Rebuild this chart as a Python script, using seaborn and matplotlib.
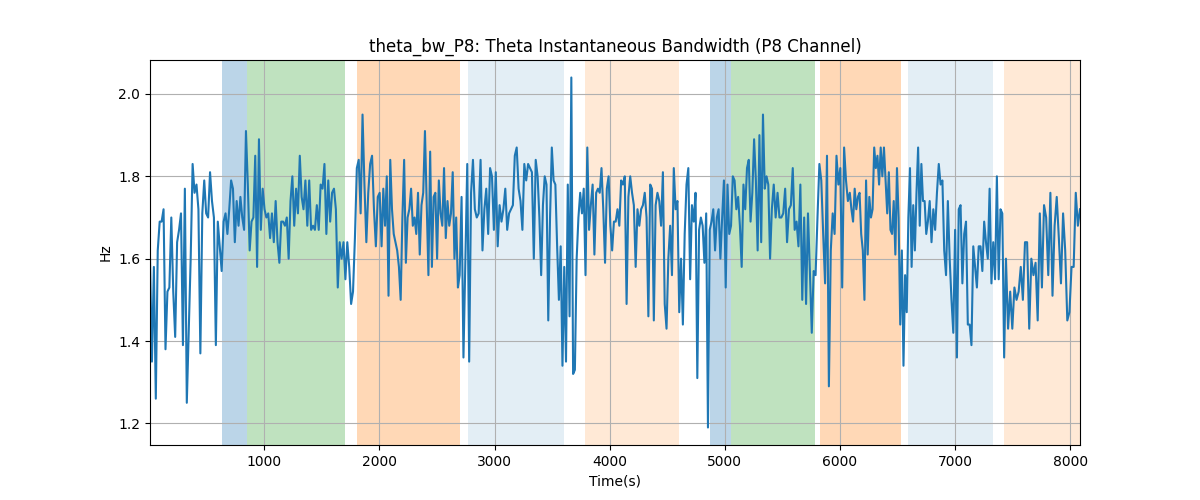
import numpy as np
import pandas as pd
import matplotlib
matplotlib.use("Agg")
import matplotlib.pyplot as plt
import seaborn as sns

# Time boundaries (s) of the read-off segments
segment_edges = [8, 664, 1341, 2019, 2697, 3374, 4052, 4730, 5408, 6085, 6763, 7441, 8084]

seg01 = [1.60, 1.35, 1.58, 1.26, 1.62, 1.69, 1.69, 1.72, 1.38, 1.52, 1.53, 1.70, 1.52, 1.41, 1.64, 1.67, 1.71, 1.39, 1.77, 1.25,
         1.43, 1.60, 1.83, 1.76, 1.78, 1.72, 1.37, 1.71, 1.79, 1.71, 1.70, 1.81, 1.74, 1.70, 1.39, 1.69, 1.63, 1.57, 1.69]
seg02 = [1.71, 1.66, 1.72, 1.79, 1.77, 1.64, 1.74, 1.68, 1.75, 1.70, 1.67, 1.91, 1.78, 1.62, 1.69, 1.70, 1.85, 1.58, 1.89, 1.67,
         1.77, 1.72, 1.70, 1.71, 1.65, 1.71, 1.64, 1.74, 1.64, 1.59, 1.69, 1.69, 1.68, 1.70, 1.60, 1.74, 1.80, 1.68, 1.77, 1.71,
         1.85, 1.75]
seg03 = [1.72, 1.79, 1.68, 1.79, 1.67, 1.68, 1.67, 1.73, 1.67, 1.78, 1.77, 1.83, 1.66, 1.79, 1.69, 1.76, 1.77, 1.72, 1.53, 1.64,
         1.60, 1.64, 1.55, 1.64, 1.58, 1.49, 1.52, 1.65, 1.82, 1.84, 1.71, 1.95, 1.78, 1.64, 1.76, 1.83, 1.85, 1.72, 1.63, 1.75,
         1.76]
seg04 = [1.63, 1.77, 1.68, 1.80, 1.51, 1.84, 1.72, 1.66, 1.64, 1.62, 1.58, 1.50, 1.70, 1.84, 1.59, 1.70, 1.72, 1.77, 1.68, 1.70,
         1.66, 1.76, 1.61, 1.73, 1.76, 1.91, 1.73, 1.56, 1.86, 1.58, 1.75, 1.76, 1.60, 1.79, 1.71, 1.68, 1.82, 1.65, 1.74, 1.68,
         1.71, 1.81, 1.60, 1.70, 1.53]
seg05 = [1.56, 1.75, 1.36, 1.60, 1.83, 1.35, 1.76, 1.84, 1.72, 1.70, 1.71, 1.84, 1.62, 1.72, 1.77, 1.66, 1.82, 1.80, 1.67, 1.81,
         1.63, 1.73, 1.69, 1.72, 1.77, 1.67, 1.71, 1.72, 1.73, 1.85, 1.87, 1.77, 1.74, 1.67, 1.83, 1.79, 1.83, 1.82, 1.81, 1.60,
         1.84]
seg06 = [1.80, 1.70, 1.56, 1.73, 1.80, 1.78, 1.45, 1.70, 1.87, 1.79, 1.78, 1.63, 1.50, 1.63, 1.34, 1.58, 1.35, 1.78, 1.46, 2.04,
         1.32, 1.33, 1.60, 1.70, 1.76, 1.71, 1.77, 1.56, 1.87, 1.67, 1.73, 1.78, 1.61, 1.76, 1.77, 1.76, 1.82, 1.72, 1.59, 1.77,
         1.80, 1.68, 1.62, 1.69]
seg07 = [1.69, 1.72, 1.68, 1.79, 1.78, 1.80, 1.49, 1.75, 1.80, 1.76, 1.73, 1.58, 1.72, 1.68, 1.72, 1.73, 1.76, 1.70, 1.46, 1.78,
         1.77, 1.45, 1.73, 1.76, 1.74, 1.68, 1.81, 1.49, 1.43, 1.60, 1.68, 1.56, 1.82, 1.72, 1.74, 1.47, 1.60, 1.44, 1.66, 1.78,
         1.82, 1.55, 1.73]
seg08 = [1.69, 1.76, 1.31, 1.67, 1.70, 1.68, 1.59, 1.71, 1.19, 1.67, 1.69, 1.72, 1.62, 1.70, 1.72, 1.60, 1.70, 1.79, 1.53, 1.78,
         1.66, 1.68, 1.80, 1.79, 1.72, 1.75, 1.68, 1.58, 1.78, 1.72, 1.82, 1.84, 1.69, 1.76, 1.89, 1.79, 1.62, 1.90, 1.64, 1.95,
         1.77, 1.80, 1.78, 1.60]
seg09 = [1.72, 1.78, 1.70, 1.76, 1.70, 1.70, 1.71, 1.77, 1.64, 1.72, 1.73, 1.82, 1.67, 1.69, 1.63, 1.78, 1.50, 1.70, 1.49, 1.71,
         1.57, 1.42, 1.57, 1.56, 1.70, 1.83, 1.79, 1.66, 1.54, 1.85, 1.29, 1.62, 1.71, 1.66, 1.85, 1.78, 1.82, 1.53, 1.87, 1.79,
         1.74]
seg10 = [1.76, 1.72, 1.69, 1.77, 1.72, 1.75, 1.76, 1.66, 1.62, 1.50, 1.79, 1.61, 1.75, 1.70, 1.72, 1.87, 1.82, 1.85, 1.78, 1.87,
         1.80, 1.87, 1.79, 1.71, 1.81, 1.67, 1.66, 1.74, 1.61, 1.82, 1.70, 1.44, 1.62, 1.34, 1.56, 1.47, 1.70, 1.82, 1.58, 1.73,
         1.62, 1.76, 1.87, 1.68, 1.83, 1.74, 1.74, 1.66]
seg11 = [1.69, 1.74, 1.64, 1.72, 1.67, 1.76, 1.83, 1.78, 1.79, 1.62, 1.56, 1.74, 1.60, 1.50, 1.42, 1.67, 1.36, 1.72, 1.73, 1.54,
         1.66, 1.69, 1.44, 1.44, 1.39, 1.63, 1.58, 1.53, 1.63, 1.63, 1.57, 1.69, 1.64, 1.60, 1.77, 1.54, 1.64, 1.55, 1.80, 1.55,
         1.72, 1.71, 1.36]
seg12 = [1.60, 1.43, 1.52, 1.43, 1.53, 1.50, 1.52, 1.58, 1.50, 1.64, 1.64, 1.43, 1.60, 1.56, 1.59, 1.45, 1.71, 1.53, 1.73, 1.70,
         1.56, 1.76, 1.51, 1.68, 1.75, 1.65, 1.54, 1.71, 1.62, 1.45, 1.47, 1.58, 1.58, 1.76, 1.68, 1.72]

segments = [seg01, seg02, seg03, seg04, seg05, seg06, seg07, seg08, seg09, seg10, seg11, seg12]

# Shaded intervals (start, end, color, alpha)
span_starts = [629, 846, 1805, 2766, 3786, 4869, 5051, 5827, 6589, 7421]
span_ends = [846, 1703, 2703, 3606, 4600, 5051, 5779, 6528, 7325, 8084]
span_colors = ["tab:blue", "tab:green", "tab:orange", "tab:blue", "tab:orange",
               "tab:blue", "tab:green", "tab:orange", "tab:blue", "tab:orange"]
span_alphas = [0.3, 0.3, 0.3, 0.12, 0.17, 0.3, 0.3, 0.3, 0.12, 0.17]

times, values = [], []
n_seg = len(segments)
for k, seg in enumerate(segments):
    t = np.linspace(segment_edges[k], segment_edges[k + 1], len(seg), endpoint=(k == n_seg - 1))
    times.extend(t)
    values.extend(seg)
df = pd.DataFrame({"Time(s)": times, "Hz": values})

fig, ax = plt.subplots(figsize=(12, 5), dpi=100)
for s, e, c, a in zip(span_starts, span_ends, span_colors, span_alphas):
    ax.axvspan(s, e, color=c, alpha=a, linewidth=0)

sns.lineplot(data=df, x="Time(s)", y="Hz", ax=ax, color="tab:blue", linewidth=1.5)
ax.set_xlim(df["Time(s)"].min(), df["Time(s)"].max())
ax.grid(True)
ax.set_title("theta_bw_P8: Theta Instantaneous Bandwidth (P8 Channel)")
ax.set_xlabel("Time(s)")
ax.set_ylabel("Hz")
fig.savefig("out.png", dpi=100)
